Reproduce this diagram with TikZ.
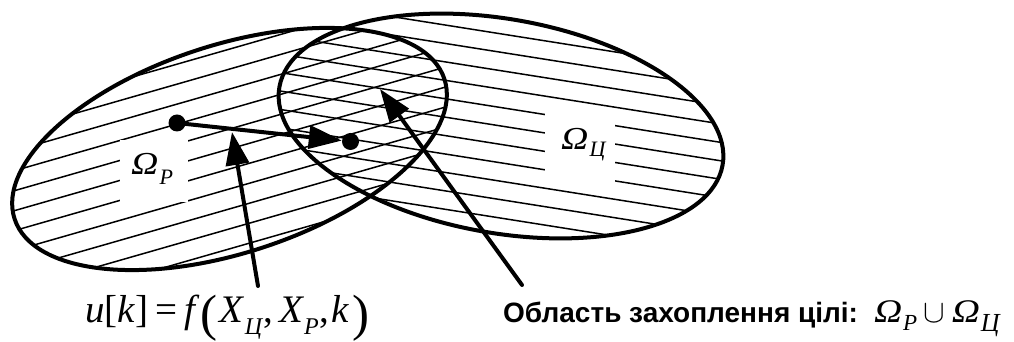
\documentclass[tikz,border=0pt]{standalone}
\usepackage{amsmath}
\usepackage{graphicx}
\usepackage{fontspec}
\setmainfont{Liberation Serif}
\newfontfamily\arialfont{Liberation Sans}
\usetikzlibrary{arrows.meta}
% italic subscript: #1 text, #2 drop, #3 size
\newcommand\isub[3]{\raisebox{-#2}{\fontsize{#3}{#3}\selectfont\normalfont\itshape #1}}
% wide italic Omega
\newcommand\wOm{{\normalfont\itshape\scalebox{1.18}[1]{Ω}}}
% Omega with a subscript
\newcommand\omsub[3]{\wOm\kern1pt\isub{#1}{#2}{#3}}
% larger parenthesis
\newcommand\bpar[1]{{\fontsize{51}{51}\selectfont\normalfont\raisebox{-8pt}{#1}}}
\begin{document}
\begin{tikzpicture}[x=1pt,y=1pt,
  outline/.style={line width=4pt},
  hatch/.style={line width=1.5pt},
  bigarrow/.style={line width=4pt,line cap=round,-{Triangle[length=33pt,width=23pt]}},
  dot/.style={circle,fill=black,inner sep=0pt,minimum size=17pt},
  gapbox/.style={fill=white,inner sep=0pt,draw=none},
  lbl/.style={inner sep=0pt,anchor=base west,font=\fontsize{32}{36}\selectfont},
  formula/.style={inner sep=0pt,anchor=base west,font=\fontsize{39}{44}\selectfont},
  caption/.style={inner sep=0pt,anchor=base west,font=\arialfont\bfseries\fontsize{28}{32}\selectfont}
]
\useasboundingbox (0,0) rectangle (1014,342);
% hatching of Omega_P
\begin{scope}
  \clip[rotate around={18:(229.5,193)}] (229.5,193) ellipse [x radius=226pt, y radius=104pt];
  \begin{scope}[shift={(229.5,193)},rotate=16]
    \foreach \k in {-8,...,8} \draw[hatch] (-320,\k*19.2) -- (320,\k*19.2);
  \end{scope}
\end{scope}
% hatching of Omega_C
\begin{scope}
  \clip[rotate around={-10:(501,216)}] (501,216) ellipse [x radius=225pt, y radius=107pt];
  \begin{scope}[shift={(501,216)},rotate=-9]
    \foreach \k in {-8,...,8} \draw[hatch] (-320,\k*18.2) -- (320,\k*18.2);
  \end{scope}
\end{scope}
% gaps for labels
\node[gapbox,minimum width=68pt,minimum height=62pt] (gP) at (154,171) {};
\node[gapbox,minimum width=70pt,minimum height=75pt] (gC) at (580,194.5) {};
% outlines
\draw[outline,rotate around={18:(229.5,193)}] (229.5,193) ellipse [x radius=226pt, y radius=104pt];
\draw[outline,rotate around={-10:(501,216)}] (501,216) ellipse [x radius=225pt, y radius=107pt];
% labels
\node[lbl] (lP) at (131,167) {\omsub{P}{10pt}{22}};
\node[lbl] (lC) at (561,192) {\omsub{Ц}{7pt}{22}};
% points and arrows
\node[dot] (p1) at (177,219) {};
\node[dot] (p2) at (350.5,200.5) {};
\draw[bigarrow] (p1.center) -- (p2);
\coordinate (a2s) at (258,56);
\coordinate (a2e) at (232,210);
\draw[bigarrow] (a2s) -- (a2e);
\coordinate (a3s) at (522,57);
\coordinate (a3e) at (380,253);
\draw[bigarrow] (a3s) -- (a3e);
% texts
\node[formula] (uf) at (85,19) {\textit{u}[\textit{k}]\kern7pt=\kern7pt\textit{f}\kern1pt\bpar{(}\kern2pt\textit{X}\isub{Ц}{12pt}{24}\kern1pt,\kern6pt\textit{X}\isub{P}{12pt}{24}\kern1pt,\kern2pt\textit{k}\kern3pt\bpar{)}};
\node[caption] (cap) at (503,19) {Область захоплення цілі:\kern16pt{\fontsize{33}{36}\selectfont\omsub{P}{8pt}{23}\kern6pt\scalebox{1.3}{$\cup$}\kern7pt\omsub{Ц}{9pt}{26}}};
\end{tikzpicture}
\end{document}
